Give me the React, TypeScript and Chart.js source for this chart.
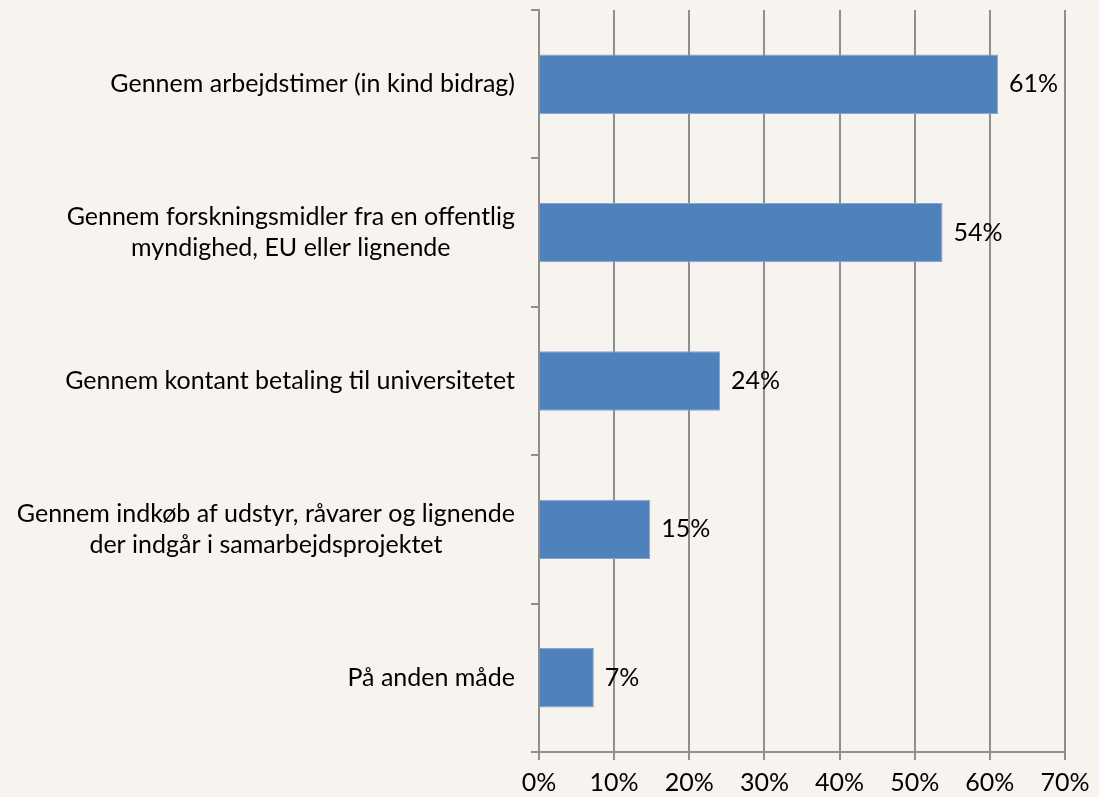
import React, { useEffect, useRef } from "react";
import { Chart, registerables } from "chart.js";
Chart.register(...registerables);

const categories: string[][] = [
  ["Gennem arbejdstimer (in kind bidrag)"],
  ["Gennem forskningsmidler fra en offentlig", "myndighed, EU eller lignende"],
  ["Gennem kontant betaling til universitetet"],
  ["Gennem indkøb af udstyr, råvarer og lignende", "der indgår i samarbejdsprojektet"],
  ["På anden måde"],
];
const values: number[] = [61.1, 53.7, 24.1, 14.8, 7.3];
const valueLabels: string[] = ["61%", "54%", "24%", "15%", "7%"];
const xMin = 0;
const xMax = 70;
const xStep = 10;

const FONT_FAMILY = "Lato, 'Open Sans', sans-serif";
const FONT_SIZE = 25;
const GRID = "#8f8f8f";
const BG = "#F7F3EE";

const categoryLabelPlugin = {
  id: "categoryLabels",
  afterDraw(chart: any) {
    const { ctx, scales } = chart;
    const y = scales.y;
    const x = scales.x;
    ctx.save();
    ctx.font = `${FONT_SIZE}px ${FONT_FAMILY}`;
    ctx.fillStyle = "#000";
    ctx.textAlign = "center";
    ctx.textBaseline = "middle";
    const lineH = 31;
    const right = x.left - 24;
    categories.forEach((lines, i) => {
      const cy = y.getPixelForValue(i);
      const w = Math.max(...lines.map((l) => ctx.measureText(l).width));
      const cx = right - w / 2;
      lines.forEach((l, j) => {
        ctx.fillText(l, cx, cy + (j - (lines.length - 1) / 2) * lineH);
      });
    });
    ctx.restore();
  },
};

const valueLabelPlugin = {
  id: "valueLabels",
  afterDatasetsDraw(chart: any) {
    const { ctx } = chart;
    const meta = chart.getDatasetMeta(0);
    ctx.save();
    ctx.font = `${FONT_SIZE}px ${FONT_FAMILY}`;
    ctx.fillStyle = "#000";
    ctx.textAlign = "left";
    ctx.textBaseline = "middle";
    meta.data.forEach((bar: any, i: number) => {
      ctx.fillText(valueLabels[i], bar.x + 11, bar.y);
    });
    ctx.restore();
  },
};

export default function App() {
  const ref = useRef<HTMLCanvasElement | null>(null);
  useEffect(() => {
    if (!ref.current) return;
    const chart = new Chart(ref.current, {
      type: "bar",
      data: {
        labels: categories.map((c) => c.join(" ")),
        datasets: [
          {
            data: values,
            backgroundColor: "#4F81BD",
            borderColor: "#86A6D2",
            borderWidth: 1,
            barPercentage: 0.4,
            categoryPercentage: 1,
          },
        ],
      },
      options: {
        indexAxis: "y",
        animation: false,
        responsive: false,
        maintainAspectRatio: false,
        layout: { padding: { top: 10, right: 34, bottom: 0, left: 0 } },
        plugins: {
          legend: { display: false },
          tooltip: { enabled: false },
        },
        scales: {
          x: {
            type: "linear",
            min: xMin,
            max: xMax,
            ticks: {
              stepSize: xStep,
              callback: (v: any) => `${v}%`,
              color: "#000",
              font: { family: FONT_FAMILY, size: FONT_SIZE },
              padding: 8,
            },
            grid: {
              color: GRID,
              lineWidth: 2,
              drawTicks: true,
              tickLength: 8,
            },
            border: { color: GRID, width: 2 },
            afterFit: (s: any) => {
              s.height = 45;
            },
          },
          y: {
            type: "category",
            offset: true,
            ticks: { display: false },
            grid: {
              offset: true,
              drawOnChartArea: false,
              drawTicks: true,
              tickLength: 8,
              color: GRID,
              lineWidth: 2,
            },
            border: { color: GRID, width: 2 },
            afterFit: (s: any) => {
              s.width = 539;
            },
          },
        },
      },
      plugins: [categoryLabelPlugin, valueLabelPlugin],
    } as any);
    return () => chart.destroy();
  }, []);
  return (
    <div
      style={{
        position: "fixed",
        left: 0,
        top: 0,
        width: 1099,
        height: 797,
        background: BG,
      }}
    >
      <canvas ref={ref} width={1099} height={797} style={{ display: "block" }} />
    </div>
  );
}
